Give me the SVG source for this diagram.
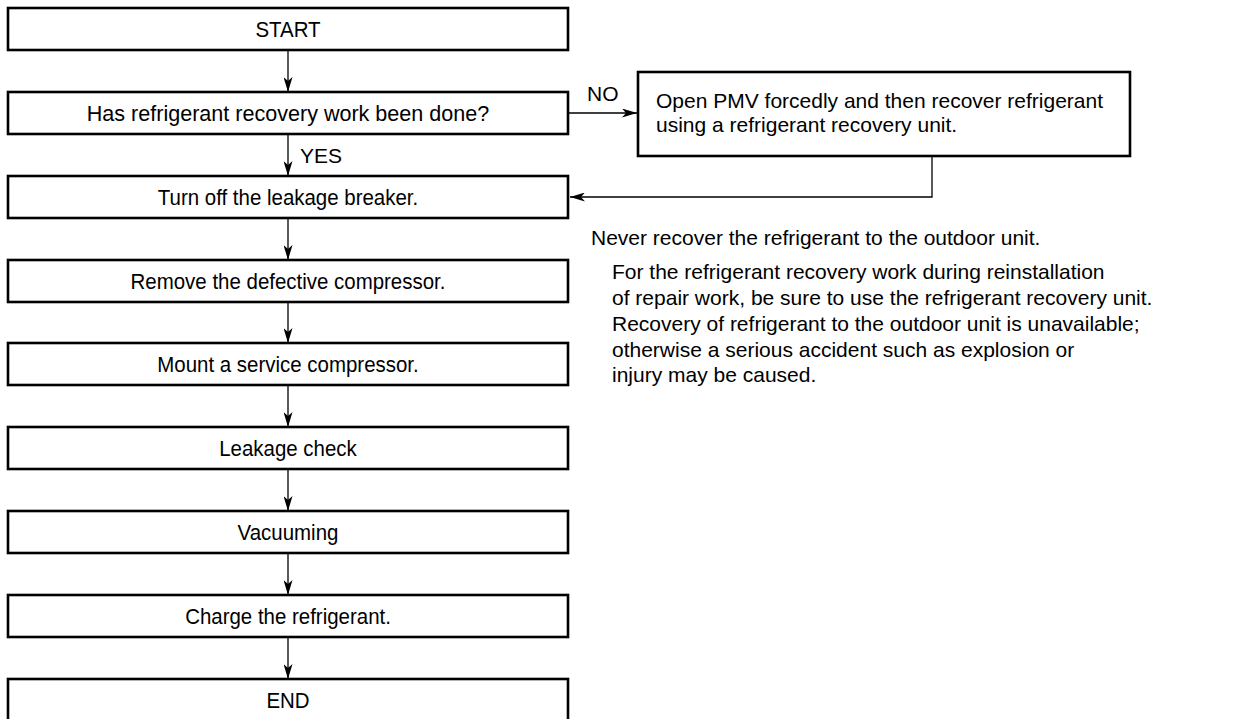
<svg xmlns="http://www.w3.org/2000/svg" width="1234" height="719" viewBox="0 0 1234 719">
<style>
  .box { fill: #ffffff; stroke: #000000; stroke-width: 2.6; }
  .lbl { font-family: "Liberation Sans", Arial, sans-serif; font-size: 22px; fill: #000000; text-anchor: middle; }
  .sm { font-family: "Liberation Sans", Arial, sans-serif; font-size: 21px; fill: #000000; }
  .line { fill: none; stroke: #000000; stroke-width: 1.3; }
</style>
<defs>
  <marker id="arr" viewBox="0 0 15 9" refX="15" refY="4.5" markerWidth="15" markerHeight="9" markerUnits="userSpaceOnUse" orient="auto">
    <path d="M0,0 L15,4.5 L0,9 L4,4.5 Z" fill="#000000"/>
  </marker>
</defs>
<rect width="1234" height="719" fill="#ffffff"/>
<g id="connectors">
  <line class="line" x1="288" y1="50" x2="288" y2="92" marker-end="url(#arr)"/>
  <line class="line" x1="288" y1="134" x2="288" y2="176" marker-end="url(#arr)"/>
  <line class="line" x1="288" y1="218" x2="288" y2="260" marker-end="url(#arr)"/>
  <line class="line" x1="288" y1="302" x2="288" y2="343" marker-end="url(#arr)"/>
  <line class="line" x1="288" y1="385" x2="288" y2="427" marker-end="url(#arr)"/>
  <line class="line" x1="288" y1="469" x2="288" y2="511" marker-end="url(#arr)"/>
  <line class="line" x1="288" y1="553" x2="288" y2="595" marker-end="url(#arr)"/>
  <line class="line" x1="288" y1="637" x2="288" y2="679" marker-end="url(#arr)"/>
  <line class="line" x1="568" y1="113" x2="637" y2="113" marker-end="url(#arr)"/>
  <polyline class="line" points="932,156 932,197 570,197" marker-end="url(#arr)"/>
  <text class="sm" x="587" y="101">NO</text>
  <text class="sm" x="300" y="163">YES</text>
</g>
<g id="start"><rect class="box" x="8" y="8" width="560" height="42"/><text class="lbl" transform="translate(288,37) scale(0.93,1)">START</text></g>
<g id="q-recovery"><rect class="box" x="8" y="92" width="560" height="42"/><text class="lbl" transform="translate(288,121) scale(0.98,1)">Has refrigerant recovery work been done?</text></g>
<g id="pmv"><rect class="box" x="638" y="72" width="492" height="84"/><text class="sm" x="656" y="108">Open PMV forcedly and then recover refrigerant</text><text class="sm" x="656" y="132">using a refrigerant recovery unit.</text></g>
<g id="breaker"><rect class="box" x="8" y="176" width="560" height="42"/><text class="lbl" transform="translate(288,205) scale(0.93,1)">Turn off the leakage breaker.</text></g>
<g id="remove"><rect class="box" x="8" y="260" width="560" height="42"/><text class="lbl" transform="translate(288,289) scale(0.93,1)">Remove the defective compressor.</text></g>
<g id="mount"><rect class="box" x="8" y="343" width="560" height="42"/><text class="lbl" transform="translate(288,372) scale(0.93,1)">Mount a service compressor.</text></g>
<g id="leak"><rect class="box" x="8" y="427" width="560" height="42"/><text class="lbl" transform="translate(288,456) scale(0.93,1)">Leakage check</text></g>
<g id="vacuum"><rect class="box" x="8" y="511" width="560" height="42"/><text class="lbl" transform="translate(288,540) scale(0.93,1)">Vacuuming</text></g>
<g id="charge"><rect class="box" x="8" y="595" width="560" height="42"/><text class="lbl" transform="translate(288,624) scale(0.93,1)">Charge the refrigerant.</text></g>
<g id="end"><rect class="box" x="8" y="679" width="560" height="44"/><text class="lbl" transform="translate(288,708) scale(0.93,1)">END</text></g>
<g id="note">
  <text class="sm" x="591" y="245">Never recover the refrigerant to the outdoor unit.</text>
  <text class="sm" x="612" y="279">For the refrigerant recovery work during reinstallation</text>
  <text class="sm" x="612" y="305">of repair work, be sure to use the refrigerant recovery unit.</text>
  <text class="sm" x="612" y="331">Recovery of refrigerant to the outdoor unit is unavailable;</text>
  <text class="sm" x="612" y="357">otherwise a serious accident such as explosion or</text>
  <text class="sm" x="612" y="382">injury may be caused.</text>
</g>
</svg>
